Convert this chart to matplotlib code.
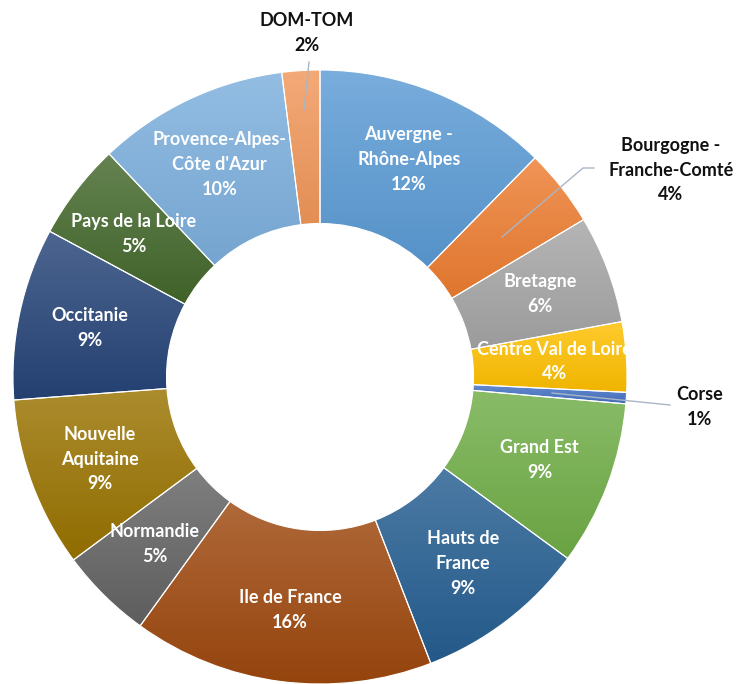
import numpy as np
import matplotlib.pyplot as plt
from matplotlib.colors import to_rgb, LinearSegmentedColormap

# regions, clockwise from 12 o'clock
regions = ['Auvergne -\nRhône-Alpes', 'Bourgogne -\nFranche-Comté', 'Bretagne',
           'Centre Val de Loire', 'Corse', 'Grand Est', 'Hauts de\nFrance',
           'Ile de France', 'Normandie', 'Nouvelle\nAquitaine', 'Occitanie',
           'Pays de la Loire', 'Provence-Alpes-\nCôte d\'Azur', 'DOM-TOM']
shares = [12.4, 4.1, 5.7, 3.7, 0.6, 8.7, 9.1, 15.9, 4.9, 9.0, 9.1, 5.1, 10.1, 2.0]
pct_labels = ['12%', '4%', '6%', '4%', '1%', '9%', '9%', '16%', '5%', '9%', '9%',
              '5%', '10%', '2%']
colors = ['#5B9BD5', '#ED7D31', '#A5A5A5', '#FFC000', '#4472C4', '#70AD47',
          '#255E91', '#9E480E', '#636363', '#997300', '#264478', '#43682B',
          '#7CAFDD', '#F1975A']
outside = ['Bourgogne -\nFranche-Comté', 'Corse', 'DOM-TOM']

W, H = 737, 684
fig = plt.figure(figsize=(W / 100, H / 100), dpi=100)
ax = fig.add_axes([0, 0, 1, 1])

cx, cy, R = 320, H - 377, 307
wedges, _ = ax.pie(shares, colors=colors, startangle=90, counterclock=False,
                   center=(cx, cy), radius=R,
                   wedgeprops=dict(width=R * 0.5, edgecolor='white', linewidth=0.8))


def mix(c, other, t):
    c = np.array(to_rgb(c))
    return tuple(c * (1 - t) + np.array(other) * t)


# Excel-like vertical shading inside each slice
grad = np.linspace(0, 1, 256)[:, None]
for w, c in zip(wedges, colors):
    bb = w.get_path().get_extents()
    cmap = LinearSegmentedColormap.from_list('', [mix(c, (0, 0, 0), 0.06),
                                                  mix(c, (1, 1, 1), 0.18)])
    im = ax.imshow(grad, extent=(bb.x0, bb.x1, bb.y0, bb.y1), origin='lower',
                   cmap=cmap, aspect='auto', zorder=1, interpolation='bilinear')
    im.set_clip_path(w)
    w.set_facecolor('none')
    w.set_zorder(3)

ax.set_xlim(0, W)
ax.set_ylim(0, H)
ax.axis('off')

font = dict(family=['Lato', 'DejaVu Sans'], fontweight='bold', fontsize=13,
            ha='center', va='center', linespacing=1.55)

# labels inside the ring
for w, name, pct in zip(wedges, regions, pct_labels):
    if name in outside:
        continue
    ang = np.deg2rad((w.theta1 + w.theta2) / 2)
    rl = R * 0.765
    ax.text(cx + rl * np.cos(ang), cy + rl * np.sin(ang), name + '\n' + pct,
            color='white', zorder=5, **font)

# labels outside with leader lines (pixel coords from top)
lead = '#A9B6C6'
ax.text(307, H - 33, 'DOM-TOM\n2%', color='#111111', zorder=5, **font)
ax.plot([309, 304], [H - 62, H - 110], color=lead, lw=1, zorder=4)

ax.text(671, H - 170, 'Bourgogne -\nFranche-Comté\n4%', color='#111111', zorder=5, **font)
ax.plot([502, 583, 594], [H - 237, H - 168, H - 168], color=lead, lw=1, zorder=4)

ax.text(700, H - 407, 'Corse\n1%', color='#111111', zorder=5, **font)
ax.plot([552, 670], [H - 393, H - 405], color=lead, lw=1, zorder=4)

fig.savefig('out.png', dpi=100, facecolor='white')
